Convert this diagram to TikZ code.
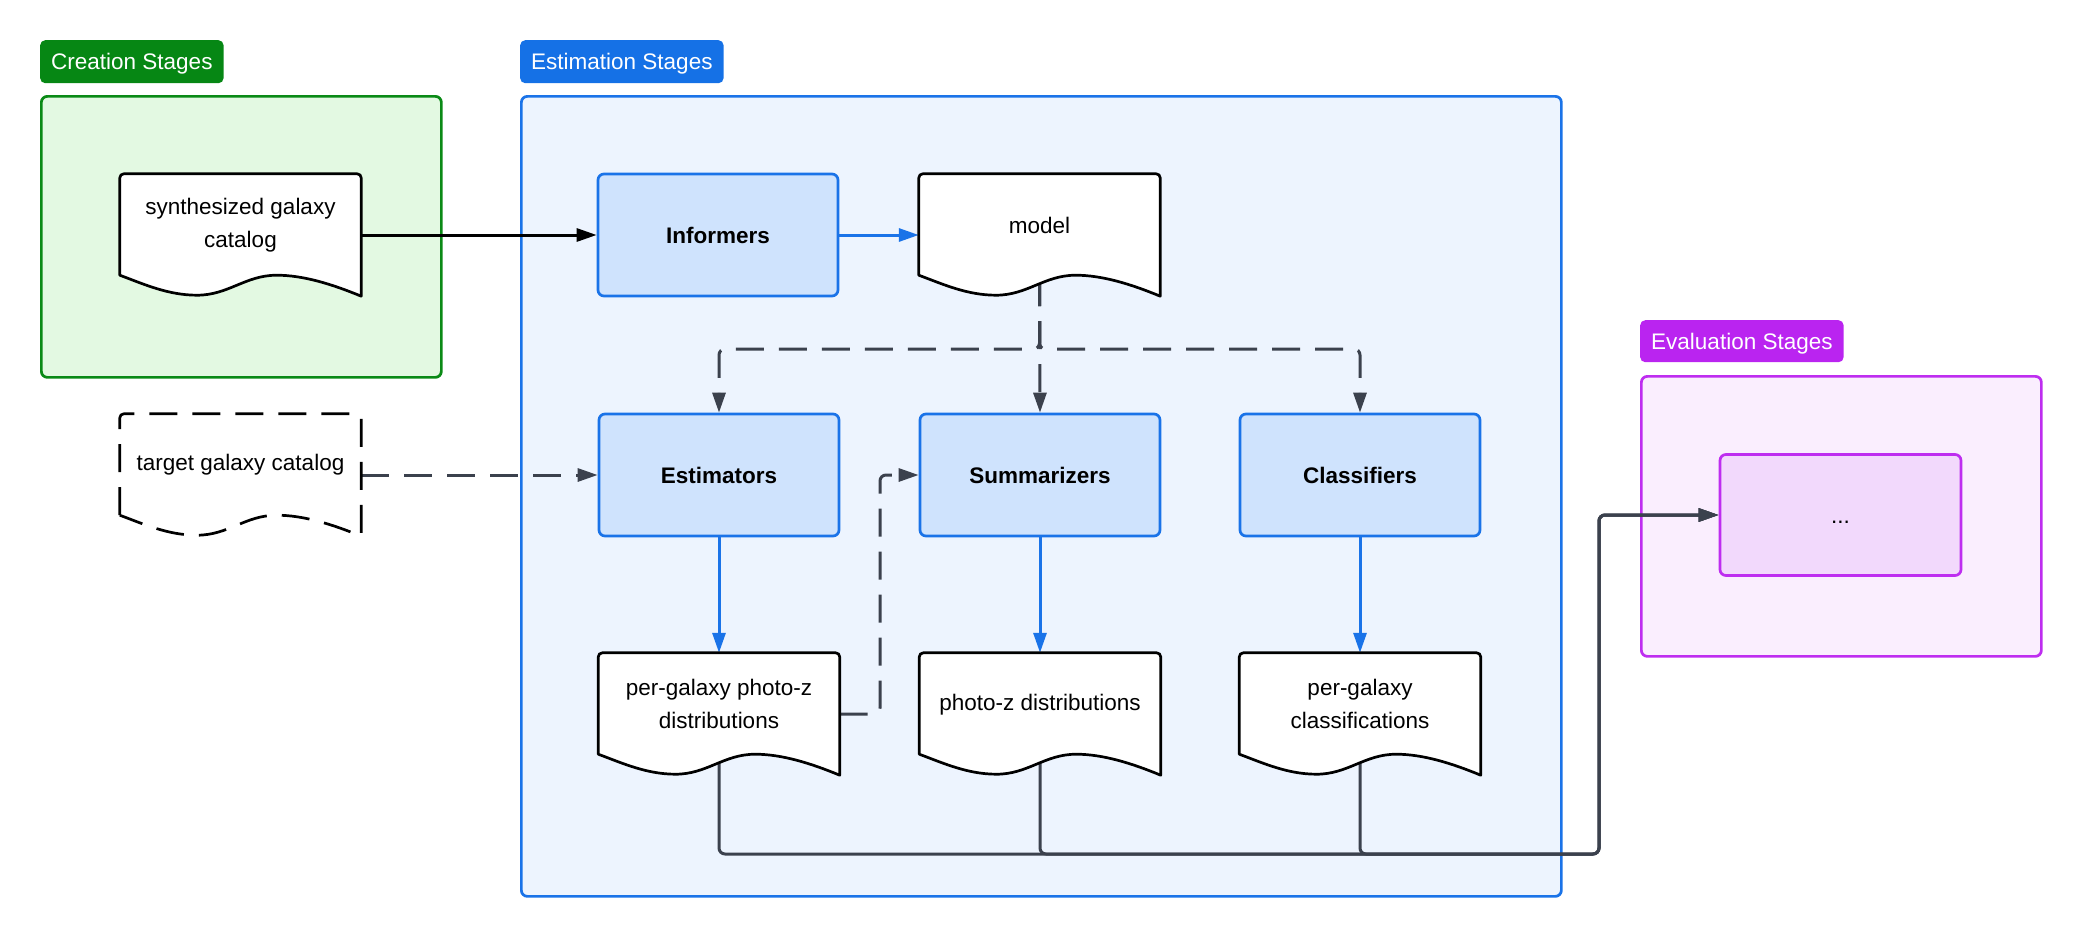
\documentclass[tikz,border=0pt]{standalone}
\usepackage{fontspec}
\setmainfont{Liberation Sans}
\usetikzlibrary{arrows.meta,calc}
\definecolor{cgreen}{RGB}{6,135,20}
\definecolor{cgreenfill}{RGB}{227,249,226}
\definecolor{cgreenline}{RGB}{10,138,22}
\definecolor{cbluelab}{RGB}{21,113,230}
\definecolor{cblue}{RGB}{26,115,232}
\definecolor{cbluefill}{RGB}{237,244,254}
\definecolor{cnode}{RGB}{207,227,253}
\definecolor{cpurple}{RGB}{186,36,240}
\definecolor{cpurpleline}{RGB}{190,45,240}
\definecolor{cpurplefill}{RGB}{250,238,254}
\definecolor{cinner}{RGB}{242,217,252}
\definecolor{cgray}{RGB}{59,65,77}
\pgfdeclarelayer{bg}
\pgfdeclarelayer{edges}
\pgfdeclarelayer{docs}
\pgfsetlayers{bg,edges,docs,main}
\newcommand{\docshape}[2][]{%
\begin{pgfonlayer}{docs}
\draw[docline,#1] let \p1=(#2.north west), \p2=(#2.south east), \n1={\x2-\x1} in
 (\x1,{\y2+21pt}) [rounded corners=4pt] -- (\x1,\y1) -- (\x2,\y1) [sharp corners] -- (\x2,\y2)
 .. controls ({\x2-0.12*\n1},{\y2+12pt}) and ({\x1+0.76*\n1},{\y2+21pt}) .. ({\x1+0.65*\n1},{\y2+21pt})
 .. controls ({\x1+0.52*\n1},{\y2+21pt}) and ({\x1+0.45*\n1},{\y2+1pt}) .. ({\x1+0.32*\n1},{\y2+1pt})
 .. controls ({\x1+0.2*\n1},{\y2+1pt}) and ({\x1+0.1*\n1},{\y2+12pt}) .. (\x1,{\y2+21pt}) -- cycle;
\end{pgfonlayer}}
\begin{document}
\begin{tikzpicture}[x=1pt,y=-1pt,
  lab/.style={rounded corners=5pt, text=white, font=\fontsize{22.5}{27}\selectfont, inner xsep=11pt, inner ysep=0pt, minimum height=43pt, anchor=north west, text height=18pt, text depth=2pt},
  cont/.style={line width=2.7pt, rounded corners=6pt, anchor=north west, inner sep=0pt},
  proc/.style={draw=cblue, fill=cnode, line width=2.7pt, rounded corners=6pt, minimum width=240pt, minimum height=122pt, font=\fontsize{22.5}{33}\selectfont\bfseries},
  docn/.style={minimum width=241pt, minimum height=122pt, inner sep=0pt},
  doctext/.style={font=\fontsize{22.5}{33}\selectfont, align=center, yshift=10pt},
  docline/.style={draw=black, fill=white, line width=2.7pt, line join=round},
  dashpat/.style={dash pattern=on 28pt off 15pt},
  conn/.style={line width=3pt, -{Triangle[length=20pt,width=13pt]}, rounded corners=6pt},
]
\useasboundingbox (0,0) rectangle (2080,935);

% containers
\begin{pgfonlayer}{bg}
\node[cont, draw=cgreenline, fill=cgreenfill, minimum width=400pt, minimum height=281pt] (creation) at (40,95) {};
\node[cont, draw=cblue, fill=cbluefill, minimum width=1040pt, minimum height=800pt] (estimation) at (520,95) {};
\node[cont, draw=cpurpleline, fill=cpurplefill, minimum width=400pt, minimum height=280pt] (evaluation) at (1640,375) {};
\end{pgfonlayer}
\node[lab, fill=cgreen] (creationlab) at (40,40) {Creation Stages};
\node[lab, fill=cbluelab] (estimationlab) at (520,40) {Estimation Stages};
\node[lab, fill=cpurple, minimum height=42pt] (evaluationlab) at (1640,320) {Evaluation Stages};

% documents
\node[docn, label={[doctext]center:{synthesized galaxy\\catalog}}] (synth) at (240.5,235) {};
\node[docn, label={[doctext]center:{target galaxy catalog}}] (target) at (240.5,475) {};
\node[docn, label={[doctext]center:{model}}] (model) at (1039.5,235) {};
\node[docn, label={[doctext]center:{per-galaxy photo-z\\distributions}}] (pgpz) at (719,714) {};
\node[docn, label={[doctext, yshift=-1pt]center:{photo-z distributions}}] (pzd) at (1040,714) {};
\node[docn, label={[doctext]center:{per-galaxy\\classifications}}] (pgc) at (1360,714) {};
\docshape{synth}
\docshape[dashpat]{target}
\docshape{model}
\docshape{pgpz}
\docshape{pzd}
\docshape{pgc}

% process nodes
\node[proc] (inf) at (718,235) {Informers};
\node[proc] (est) at (719,475) {Estimators};
\node[proc] (summ) at (1040,475) {Summarizers};
\node[proc] (cls) at (1360,475) {Classifiers};
\node[draw=cpurpleline, fill=cinner, line width=2.7pt, rounded corners=6pt, minimum width=241pt, minimum height=121pt, font=\fontsize{22.5}{33}\selectfont, text height=22pt, text depth=6pt] (inner) at (1840.5,515) {...};

\coordinate (branchy) at (0,349);
\coordinate (midx) at (880,0);
\coordinate (busy) at (0,854);
\coordinate (busx) at (1599,0);

\begin{pgfonlayer}{edges}
\draw[conn, black] (synth.east) -- (inf.west);
\draw[conn, cblue] (inf.east) -- (model.west);
\draw[conn, cgray, dashpat] (target.east) -- (est.west);
\draw[conn, cgray, dashpat] (model.center) -- (summ.north);
\draw[conn, cgray, dashpat] (model.center) -- (model.center |- branchy) -| (est.north);
\draw[conn, cgray, dashpat] (model.center) -- (model.center |- branchy) -| (cls.north);
\draw[conn, cblue] (est.south) -- (pgpz.north);
\draw[conn, cblue] (summ.south) -- (pzd.north);
\draw[conn, cblue] (cls.south) -- (pgc.north);
\draw[conn, cgray, dashpat] (pgpz.east) -- (midx |- pgpz.east) -- (midx |- summ.west) -- (summ.west);
\draw[conn, cgray] (pgpz.center) -- (pgpz.center |- busy) -- (busx |- busy) -- (busx |- inner.west) -- (inner.west);
\draw[conn, cgray] (pzd.center) -- (pzd.center |- busy) -- (busx |- busy) -- (busx |- inner.west) -- (inner.west);
\draw[conn, cgray] (pgc.center) -- (pgc.center |- busy) -- (busx |- busy) -- (busx |- inner.west) -- (inner.west);
\end{pgfonlayer}
\end{tikzpicture}
\end{document}
